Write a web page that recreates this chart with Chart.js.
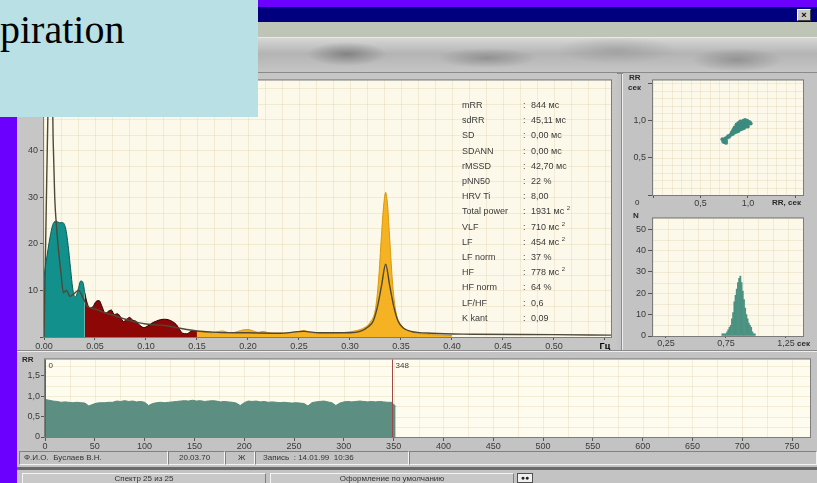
<!DOCTYPE html>
<html>
<head>
<meta charset="utf-8">
<script src="https://cdn.jsdelivr.net/npm/chart.js@4.4.1/dist/chart.umd.min.js"></script>
<style>
  html, body { margin: 0; padding: 0; }
  body {
    width: 817px; height: 483px; position: relative; overflow: hidden;
    background: #6b00ff; font-family: "Liberation Sans", Arial, sans-serif;
  }
  .abs { position: absolute; }
  #win { left: 17px; top: 22px; width: 800px; height: 461px; background: #c3c3c3; }
  #title { left: 258px; top: 7px; width: 559px; height: 15px; background: #00007f; }
  #closeBtn {
    left: 797px; top: 9px; width: 12px; height: 10px; background: #c8c8c8;
    border-top: 1px solid #fff; border-left: 1px solid #fff; border-right: 1px solid #404040; border-bottom: 1px solid #404040;
    font-size: 9px; line-height: 10px; text-align: center; font-weight: bold; color: #000;
  }
  #strip { left: 17px; top: 22px; width: 800px; height: 15px; background: #bfc5b6; }
  #toolbar {
    left: 17px; top: 37px; width: 800px; height: 35px;
    background:
      radial-gradient(ellipse 40px 12px at 330px 16px, rgba(90,90,90,0.55), transparent),
      radial-gradient(ellipse 50px 10px at 470px 20px, rgba(100,100,100,0.45), transparent),
      radial-gradient(ellipse 60px 14px at 600px 12px, rgba(120,120,120,0.35), transparent),
      radial-gradient(ellipse 45px 12px at 720px 22px, rgba(90,90,90,0.4), transparent),
      linear-gradient(180deg, #d6d6d6 0%, #b4b4b4 45%, #c6c6c6 100%);
    border-top: 1px solid #e8e8e8;
  }
  #tbLine { left: 17px; top: 72px; width: 800px; height: 2px; background: #8a8a8a; }
  canvas { position: absolute; }
  #legendBox { left: 0; top: 0; width: 258px; height: 117px; background: #b9e0e4; z-index: 10; overflow: hidden; }
  #legendText {
    position: absolute; left: 0; top: 7px; font-family: "Liberation Serif", "Times New Roman", serif;
    font-size: 40px; line-height: 46px; color: #000; white-space: nowrap;
  }
  .stat { position: absolute; font-size: 9px; line-height: 10px; color: #3a3a3a; white-space: nowrap; }
  .stat sup { font-size: 6px; line-height: 0; vertical-align: 4px; }
  .unit { position: absolute; font-size: 8px; line-height: 9px; font-weight: bold; color: #2a2a2a; white-space: nowrap; }
  .fld {
    position: absolute; top: 451px; height: 14px; box-sizing: border-box;
    border-top: 1px solid #808080; border-left: 1px solid #808080; border-bottom: 1px solid #f4f4f4; border-right: 1px solid #f4f4f4;
    font-size: 8px; line-height: 12px; padding-left: 4px; color: #333; white-space: nowrap;
  }
  .btn {
    position: absolute; top: 473px; height: 10px; box-sizing: border-box; background: #c8c8c8;
    border-top: 1px solid #f4f4f4; border-left: 1px solid #f4f4f4; border-right: 1px solid #808080;
    font-size: 8px; line-height: 10px; text-align: center; color: #333; white-space: nowrap;
  }
</style>
</head>
<body>
<div id="win" class="abs"></div>
<div id="title" class="abs"></div>
<div id="closeBtn" class="abs">×</div>
<div id="strip" class="abs"></div>
<div id="toolbar" class="abs"></div>
<div id="tbLine" class="abs"></div>

<canvas id="spectrum" width="600" height="278" style="left:17px;top:73px;background:#c6c6c6"></canvas>
<div class="abs" style="left:621px;top:74px;width:1px;height:278px;background:#8a8a8a"></div>
<div class="abs" style="left:622px;top:74px;width:1px;height:278px;background:#eeeeee"></div>
<canvas id="scatter" width="195" height="138" style="left:623px;top:73px;background:#c3c3c3"></canvas>
<canvas id="histogram" width="195" height="140" style="left:623px;top:211px;background:#c3c3c3"></canvas>
<div class="abs" style="left:17px;top:350px;width:800px;height:1px;background:#8a8a8a"></div>
<div class="abs" style="left:17px;top:351px;width:800px;height:1px;background:#eeeeee"></div>
<canvas id="rhythm" width="800" height="97" style="left:17px;top:353px;background:#c3c3c3"></canvas>

<div id="stats"></div>

<div class="unit" style="left:629px;top:73px">RR</div>
<div class="unit" style="left:628px;top:83px">сек</div>
<div class="unit" style="left:635px;top:198px;font-weight:normal">0</div>
<div class="unit" style="left:772px;top:198px">RR, сек</div>
<div class="unit" style="left:633px;top:211px">N</div>
<div class="unit" style="left:797px;top:339px">сек</div>
<div class="unit" style="left:22px;top:355px">RR</div>

<div class="fld" style="left:19px;width:149px">Ф.И.О.&nbsp; Буслаев В.Н.</div>
<div class="fld" style="left:168px;width:57px;padding-left:10px">20.03.70</div>
<div class="fld" style="left:225px;width:30px;padding-left:12px">Ж</div>
<div class="fld" style="left:255px;width:154px;padding-left:7px">Запись&nbsp; : 14.01.99&nbsp; 10:36</div>
<div class="fld" style="left:409px;width:408px"></div>
<div class="abs" style="left:17px;top:467px;width:800px;height:3px;background:#6a6a6a"></div>
<div class="abs" style="left:17px;top:470px;width:800px;height:13px;background:#c3c3c3"></div>
<div class="btn" style="left:22px;width:244px">Спектр 25 из 25</div>
<div class="btn" style="left:270px;width:244px">Оформление по умолчанию</div>
<div class="abs" style="left:517px;top:473px;width:16px;height:10px;background:#f0f0f0;border:1px solid #505050;box-sizing:border-box;font-size:7px;line-height:8px;text-align:center;font-weight:bold;color:#202020">●●</div>

<div id="legendBox" class="abs"><div id="legendText">piration</div></div>

<script>
// spectrum, Hz vs power
const vlfFreq = [0, 0.002, 0.006, 0.009, 0.012, 0.015, 0.0185, 0.0215, 0.024, 0.0255, 0.0288, 0.031, 0.0336, 0.036, 0.038, 0.04];
const vlfPower = [13, 16, 21.5, 24.3, 24.8, 24.5, 24.5, 23, 19, 15.8, 9.5, 8.6, 10.3, 12, 11.8, 9.5];

const lfFreq = [0.04, 0.042, 0.045, 0.048, 0.051, 0.054, 0.057, 0.06, 0.063, 0.066, 0.069, 0.072, 0.075, 0.078, 0.081, 0.084, 0.087, 0.09, 0.094, 0.098, 0.102, 0.106, 0.11, 0.114, 0.118, 0.122, 0.126, 0.13, 0.133, 0.136, 0.14, 0.144, 0.147, 0.15];
const lfPower = [9.5, 7.5, 6.2, 6.5, 7.6, 7.8, 6.5, 5, 5.5, 5.8, 4.8, 5.0, 4.3, 3.3, 3.8, 4.2, 3.6, 3.4, 2.5, 2, 2.4, 3, 3.4, 3.7, 3.8, 3.7, 3.3, 2.6, 1.6, 0.8, 0.7, 1.2, 1.4, 1.2];

const hfFreq = [0.15, 0.155, 0.16, 0.165, 0.17, 0.175, 0.18, 0.185, 0.19, 0.195, 0.2, 0.205, 0.21, 0.215, 0.22, 0.23, 0.24, 0.25, 0.255, 0.26, 0.27, 0.28, 0.29, 0.3, 0.305, 0.31, 0.315, 0.32, 0.325, 0.328, 0.331, 0.333, 0.335, 0.337, 0.339, 0.342, 0.345, 0.35, 0.355, 0.36, 0.37, 0.38, 0.39, 0.4];
const hfPower = [1.2, 1.1, 1.0, 0.9, 1.1, 1.3, 1.0, 0.9, 1.2, 1.5, 1.6, 1.3, 1.0, 1.2, 0.9, 0.8, 0.9, 1.2, 1.4, 1.0, 0.8, 0.7, 0.9, 1.1, 1.3, 1.6, 2.1, 3.2, 6, 12, 22, 28, 31, 28, 21, 11, 5.5, 2.6, 1.6, 1.1, 0.7, 0.5, 0.4, 0.3];

const smoothFreq = [0, 0.002, 0.004, 0.0055, 0.0075, 0.009, 0.0105, 0.0125, 0.0145, 0.0165, 0.019, 0.022, 0.0255, 0.03, 0.034, 0.038, 0.043, 0.05, 0.06, 0.07, 0.08, 0.09, 0.1, 0.11, 0.12, 0.13, 0.14, 0.15, 0.17, 0.2, 0.23, 0.255, 0.27, 0.3, 0.31, 0.318, 0.323, 0.327, 0.331, 0.335, 0.339, 0.343, 0.347, 0.352, 0.36, 0.38, 0.42, 0.5, 0.556];
const smoothPower = [0, 25, 50, 62, 62, 42, 30, 23, 18, 14, 9.5, 10, 8.7, 9.4, 10, 8.5, 6.5, 6, 5.2, 4.5, 3.8, 3.2, 2.8, 2.6, 2.4, 2, 1.6, 1.3, 1, 0.9, 0.8, 1.2, 0.9, 0.9, 1.2, 2.2, 3.5, 6.5, 11, 15.6, 11, 6.5, 3.5, 2, 1.2, 0.8, 0.6, 0.5, 0.4];

const statNames = ["mRR", "sdRR", "SD", "SDANN", "rMSSD", "pNN50", "HRV Ti", "Total power", "VLF", "LF", "LF norm", "HF", "HF norm", "LF/HF", "K kant"];
const statValues = ["844 мс", "45,11 мс", "0,00 мс", "0,00 мс", "42,70 мс", "22 %", "8,00", "1931 мс <sup>2</sup>", "710 мс <sup>2</sup>", "454 мс <sup>2</sup>", "37 %", "778 мс <sup>2</sup>", "64 %", "0,6", "0,09"];

// scattergram RR(n) / RR(n+1), s
const scatterX = [0.74, 0.75, 0.77, 0.76, 0.78, 0.79, 0.8, 0.81, 0.82, 0.83, 0.84, 0.85, 0.86, 0.86, 0.87, 0.88, 0.88, 0.89, 0.9, 0.9, 0.91, 0.92, 0.92, 0.93, 0.94, 0.95, 0.95, 0.96, 0.97, 0.98, 0.99, 1.0, 0.87, 0.89, 0.91, 0.93, 0.94, 0.96, 0.85, 0.9, 0.97, 1.01, 0.84, 0.92,
  0.88, 0.9, 0.92, 0.95, 0.97, 0.99, 1.0, 1.02, 0.94, 0.96, 0.98, 1.0, 0.9, 0.93, 0.96, 0.98, 0.86, 0.88, 0.92, 0.95, 1.03, 0.99, 0.73, 0.75, 0.77];
const scatterY = [0.72, 0.74, 0.73, 0.76, 0.77, 0.79, 0.78, 0.8, 0.81, 0.84, 0.82, 0.85, 0.84, 0.87, 0.86, 0.88, 0.85, 0.87, 0.89, 0.86, 0.9, 0.88, 0.92, 0.9, 0.93, 0.91, 0.95, 0.93, 0.96, 0.94, 0.97, 0.95, 0.9, 0.92, 0.93, 0.95, 0.97, 0.98, 0.88, 0.94, 0.99, 0.97, 0.86, 0.96,
  0.95, 0.97, 0.99, 1.0, 1.01, 1.0, 0.99, 0.98, 0.89, 0.9, 0.92, 0.92, 0.91, 0.93, 0.96, 0.98, 0.91, 0.93, 0.97, 0.98, 0.96, 0.93, 0.75, 0.71, 0.7];

// histogram of RR, s
const histBins = [0.72, 0.73, 0.74, 0.75, 0.76, 0.77, 0.78, 0.79, 0.80, 0.81, 0.82, 0.83, 0.84, 0.85, 0.86, 0.87, 0.88, 0.89, 0.90, 0.91, 0.92, 0.93, 0.94, 0.95, 0.96, 0.97, 0.98, 0.99];
const histCounts = [1, 1, 1, 1, 2, 3, 4, 5, 8, 11, 16, 19, 22, 25, 27, 28, 25, 21, 17, 13, 10, 8, 6, 5, 4, 2, 1, 1];
const histTicks = [0.25, 0.75, 1.25];

// rhythmogram, one value per 4 beats
const rrStep = 4;
const rrValues = [0.92, 0.9, 0.88, 0.87, 0.85, 0.86, 0.85, 0.84, 0.85, 0.84, 0.83, 0.76, 0.8, 0.83, 0.84, 0.84, 0.85, 0.85, 0.88, 0.87, 0.89, 0.87, 0.88, 0.86, 0.87, 0.85, 0.77, 0.82, 0.84, 0.85, 0.84, 0.85, 0.86, 0.87, 0.88, 0.89, 0.88, 0.9, 0.88, 0.89, 0.87, 0.88, 0.89, 0.88, 0.86, 0.87, 0.86, 0.85, 0.83, 0.77, 0.84, 0.88, 0.87, 0.88, 0.86, 0.87, 0.85, 0.86, 0.85, 0.84, 0.85, 0.84, 0.83, 0.84, 0.83, 0.82, 0.76, 0.84, 0.86, 0.87, 0.88, 0.86, 0.84, 0.77, 0.83, 0.86, 0.87, 0.86, 0.87, 0.88, 0.87, 0.86, 0.87, 0.86, 0.87, 0.86, 0.85, 0.85, 0.75];
const rrMarkers = [0, 348];

Chart.defaults.font.family = '"Liberation Sans", Arial, sans-serif';
Chart.defaults.font.size = 9;
Chart.defaults.color = "#3a3a3a";

const comma = (v, d) => v.toFixed(d).replace(".", ",");
const pts = (xs, ys) => xs.map((x, i) => ({ x: x, y: ys[i] }));

// cream plot area with a fine grid and frame
const panel = {
  id: "panel",
  beforeDraw(chart, args, o) {
    const { ctx, chartArea: a, scales } = chart;
    ctx.save();
    ctx.fillStyle = o.bg || "#fdf9ea";
    ctx.fillRect(a.left, a.top, a.width, a.height);
    ctx.strokeStyle = "rgba(205,185,130,0.22)";
    ctx.lineWidth = 1;
    if (o.gx) {
      for (let v = scales.x.min; v <= scales.x.max; v += o.gx) {
        const px = Math.round(scales.x.getPixelForValue(v)) + 0.5;
        ctx.beginPath(); ctx.moveTo(px, a.top); ctx.lineTo(px, a.bottom); ctx.stroke();
      }
    }
    if (o.gy) {
      for (let v = scales.y.min; v <= scales.y.max; v += o.gy) {
        const py = Math.round(scales.y.getPixelForValue(v)) + 0.5;
        ctx.beginPath(); ctx.moveTo(a.left, py); ctx.lineTo(a.right, py); ctx.stroke();
      }
    }
    ctx.restore();
  },
  afterDraw(chart, args, o) {
    const { ctx, chartArea: a } = chart;
    ctx.save();
    ctx.strokeStyle = "#7c7c7c";
    ctx.lineWidth = 1;
    ctx.strokeRect(a.left - 0.5, a.top - 0.5, a.width + 1, a.height + 1);
    ctx.restore();
  },
};

function band(xs, ys, fillColor, edgeColor) {
  return {
    data: pts(xs, ys),
    backgroundColor: fillColor,
    borderColor: edgeColor,
    borderWidth: 1,
    fill: "origin",
    pointRadius: 0,
    cubicInterpolationMode: "monotone",
    order: 2,
  };
}

new Chart(document.getElementById("spectrum"), {
  type: "line",
  plugins: [panel],
  data: {
    datasets: [
      {
        data: pts(smoothFreq, smoothPower),
        borderColor: "#4e4838",
        borderWidth: 1.4,
        fill: false,
        pointRadius: 0,
        cubicInterpolationMode: "monotone",
        order: 1,
      },
      band(vlfFreq, vlfPower, "#12908b", "#0a5c57"),
      band(lfFreq, lfPower, "#8e0707", "#260000"),
      band(hfFreq, hfPower, "#f5b222", "#d8980f"),
    ],
  },
  options: {
    responsive: false,
    animation: false,
    layout: { padding: { top: 3, right: 6, left: 0, bottom: 0 } },
    plugins: { legend: { display: false }, tooltip: { enabled: false }, panel: { gx: 0.05 / 3, gy: 10 / 3 } },
    scales: {
      x: {
        type: "linear",
        min: 0,
        max: 0.556,
        afterFit(s) { s.height = 14; },
        border: { display: false },
        grid: { drawOnChartArea: false, tickLength: 3, tickColor: "#555" },
        ticks: {
          stepSize: 0.05,
          includeBounds: false,
          autoSkip: false,
          maxRotation: 0,
          padding: 1,
          color: (c) => (c.tick && c.tick.value > 0.54 ? "#000" : "#3a3a3a"),
          font: (c) => ({ size: 9, weight: c.tick && c.tick.value > 0.54 ? "bold" : "normal" }),
          callback: (v) => (Math.abs(v - 0.55) < 1e-6 ? "Гц" : v.toFixed(2)),
        },
      },
      y: {
        min: 0,
        max: 55,
        afterFit(s) { s.width = 27; },
        border: { display: false },
        grid: { drawOnChartArea: false, tickLength: 4, tickColor: "#555" },
        ticks: { stepSize: 10, includeBounds: false, padding: 2, callback: (v) => (v === 0 ? "" : v) },
      },
    },
  },
});

// stats text over the spectrum panel
const stats = document.getElementById("stats");
statNames.forEach((name, i) => {
  const top = 100 + i * 15.2;
  stats.innerHTML += `<div class="stat" style="left:462px;top:${top}px">${name}</div>`;
  stats.innerHTML += `<div class="stat" style="left:523px;top:${top}px">:</div>`;
  stats.innerHTML += `<div class="stat" style="left:531px;top:${top}px">${statValues[i]}</div>`;
});

new Chart(document.getElementById("scatter"), {
  type: "scatter",
  plugins: [panel],
  data: {
    datasets: [
      {
        data: pts(scatterX, scatterY),
        pointRadius: 1.9,
        pointBackgroundColor: "#3c8b80",
        pointBorderWidth: 0,
      },
    ],
  },
  options: {
    responsive: false,
    animation: false,
    layout: { padding: { top: 2, right: 15, left: 0, bottom: 0 } },
    plugins: { legend: { display: false }, tooltip: { enabled: false }, panel: { gx: 0.1, gy: 0.1 } },
    scales: {
      x: {
        type: "linear",
        min: 0,
        max: 1.58,
        afterFit(s) { s.height = 16; },
        border: { display: false },
        grid: { drawOnChartArea: false, tickLength: 3, tickColor: "#555" },
        ticks: { stepSize: 0.5, includeBounds: false, padding: 0, maxRotation: 0, callback: (v) => (v === 0 || v > 1.4 ? "" : comma(v, 1)) },
      },
      y: {
        min: 0,
        max: 1.54,
        afterFit(s) { s.width = 30; },
        border: { display: false },
        grid: { drawOnChartArea: false, tickLength: 5, tickColor: "#555" },
        ticks: { stepSize: 0.5, includeBounds: false, padding: 2, callback: (v) => (v === 0 || v > 1.4 ? "" : comma(v, 1)) },
      },
    },
  },
});

new Chart(document.getElementById("histogram"), {
  type: "bar",
  plugins: [panel],
  data: {
    datasets: [
      {
        data: pts(histBins, histCounts),
        backgroundColor: "#4c9282",
        borderColor: "#4c9282",
        borderWidth: 0,
        barPercentage: 1,
        categoryPercentage: 1,
      },
    ],
  },
  options: {
    responsive: false,
    animation: false,
    layout: { padding: { top: 5, right: 15, left: 0, bottom: 0 } },
    plugins: { legend: { display: false }, tooltip: { enabled: false }, panel: { gx: 0.125, gy: 5 } },
    scales: {
      x: {
        type: "linear",
        min: 0.142,
        max: 1.392,
        offset: false,
        afterFit(s) { s.height = 15; },
        afterBuildTicks(s) { s.ticks = histTicks.map((v) => ({ value: v })); },
        border: { display: false },
        grid: { drawOnChartArea: false, tickLength: 2, tickColor: "#555", offset: false },
        ticks: { padding: 0, maxRotation: 0, autoSkip: false, callback: (v) => comma(v, 2) },
      },
      y: {
        min: 0,
        max: 55,
        afterFit(s) { s.width = 30; },
        border: { display: false },
        grid: { drawOnChartArea: false, tickLength: 5, tickColor: "#555" },
        ticks: { stepSize: 10, includeBounds: false, padding: 2 },
      },
    },
  },
});

const markers = {
  id: "markers",
  afterDatasetsDraw(chart) {
    const { ctx, chartArea: a, scales } = chart;
    ctx.save();
    ctx.strokeStyle = "#9b4a4a";
    ctx.fillStyle = "#3a3a3a";
    ctx.lineWidth = 1;
    ctx.font = '8px "Liberation Sans", Arial';
    ctx.textBaseline = "top";
    rrMarkers.forEach((beat) => {
      const px = Math.round(scales.x.getPixelForValue(beat)) + 0.5;
      ctx.beginPath(); ctx.moveTo(px, a.top); ctx.lineTo(px, a.bottom); ctx.stroke();
      ctx.fillText(String(beat), px + 3, a.top + 2);
    });
    ctx.restore();
  },
};

new Chart(document.getElementById("rhythm"), {
  type: "line",
  plugins: [panel, markers],
  data: {
    datasets: [
      {
        data: rrValues.map((v, i) => ({ x: i * rrStep, y: v })),
        backgroundColor: "#5c8f81",
        borderColor: "#5a8c7e",
        borderWidth: 1,
        fill: "origin",
        pointRadius: 0,
      },
    ],
  },
  options: {
    responsive: false,
    animation: false,
    layout: { padding: { top: 5, right: 7, left: 0, bottom: 0 } },
    plugins: { legend: { display: false }, tooltip: { enabled: false }, panel: { bg: "#fefcee", gx: 25, gy: 0.25 } },
    scales: {
      x: {
        type: "linear",
        min: 0,
        max: 768,
        afterFit(s) { s.height = 13; },
        border: { display: false },
        grid: { drawOnChartArea: false, tickLength: 4, tickColor: "#555" },
        ticks: { stepSize: 50, includeBounds: false, padding: 0, maxRotation: 0, autoSkip: false },
      },
      y: {
        min: 0,
        max: 1.9,
        afterFit(s) { s.width = 28; },
        border: { display: false },
        grid: { drawOnChartArea: false, tickLength: 4, tickColor: "#555" },
        ticks: { stepSize: 0.5, includeBounds: false, padding: 1, callback: (v) => (v === 0 ? "0" : comma(v, 1)) },
      },
    },
  },
});
</script>
</body>
</html>
